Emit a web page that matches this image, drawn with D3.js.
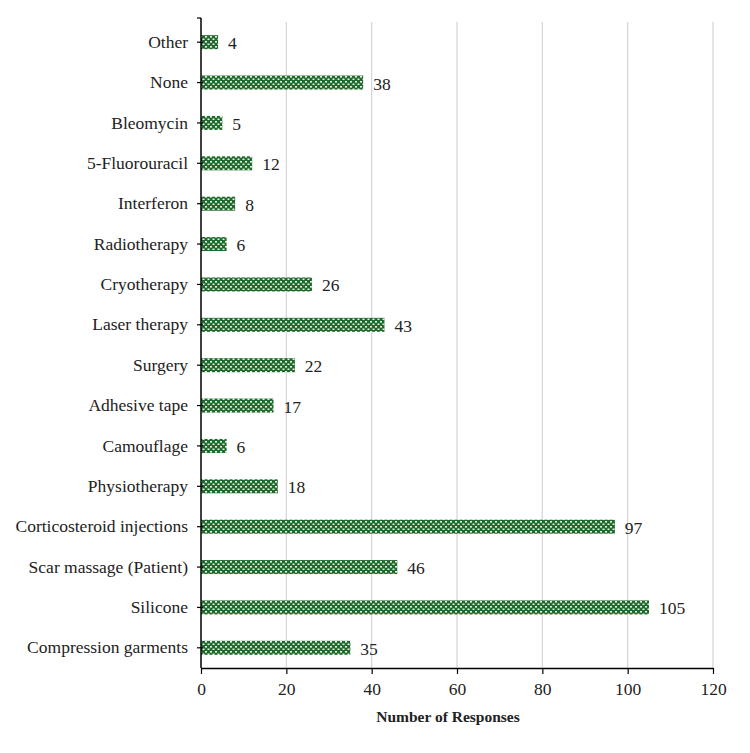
<!DOCTYPE html>
<html lang="en">
<head>
<meta charset="utf-8">
<title>Scar treatments</title>
<script src="https://d3js.org/d3.v7.min.js"></script>
<style>
  body { margin: 0; background: #fff; }
  text { font-family: 'Liberation Serif', 'Times New Roman', serif; fill: #222; }
  .axis-title { font-weight: bold; font-size: 15.5px; }
</style>
</head>
<body>
<div id="chart"></div>
<script>
// categories bottom -> top as in the picture
var categories = ["Compression garments", "Silicone", "Scar massage (Patient)", "Corticosteroid injections",
  "Physiotherapy", "Camouflage", "Adhesive tape", "Surgery", "Laser therapy", "Cryotherapy",
  "Radiotherapy", "Interferon", "5-Fluorouracil", "Bleomycin", "None", "Other"];
var responses = [35, 105, 46, 97, 18, 6, 17, 22, 43, 26, 6, 8, 12, 5, 38, 4];
var xTicks = [0, 20, 40, 60, 80, 100, 120];

var width = 750, height = 753;
var margin = {top: 22, right: 37, bottom: 85, left: 201};
var fs = "17.5px";

var svg = d3.select("#chart").append("svg")
  .attr("width", width)
  .attr("height", height);

// checkered fill for bars
var pat = svg.append("defs").append("pattern")
  .attr("id", "dots")
  .attr("patternUnits", "userSpaceOnUse")
  .attr("width", 5).attr("height", 5);
pat.append("rect").attr("width", 5).attr("height", 5).attr("fill", "#1f6a2c");
pat.append("rect").attr("x", 0).attr("y", 1).attr("width", 2).attr("height", 1.6).attr("fill", "#e8f2e8");
pat.append("rect").attr("x", 2.5).attr("y", 3.5).attr("width", 2).attr("height", 1.6).attr("fill", "#e8f2e8");

var data = categories.map(function(c, i) { return {name: c, value: responses[i]}; });

var x = d3.scaleLinear()
  .domain([0, 120])
  .range([margin.left, width - margin.right]);

var y = d3.scaleBand()
  .domain(categories.slice().reverse())
  .range([margin.top, height - margin.bottom]);

// gridlines
svg.append("g")
  .selectAll("line")
  .data(xTicks.slice(1))
  .join("line")
    .attr("x1", d => x(d)).attr("x2", d => x(d))
    .attr("y1", margin.top).attr("y2", height - margin.bottom)
    .attr("stroke", "#d4d4d4")
    .attr("stroke-width", 1.2);

// bars
var barH = 14;
svg.append("g")
  .selectAll("rect")
  .data(data)
  .join("rect")
    .attr("x", x(0))
    .attr("y", d => y(d.name) + y.bandwidth() / 2 - barH / 2)
    .attr("width", d => x(d.value) - x(0))
    .attr("height", barH)
    .attr("fill", "url(#dots)");

// value labels
svg.append("g")
  .selectAll("text")
  .data(data)
  .join("text")
    .attr("x", d => x(d.value) + 10)
    .attr("y", d => y(d.name) + y.bandwidth() / 2 + 7)
    .style("font-size", fs)
    .text(d => d.value);

// x axis
var xAxis = svg.append("g")
  .attr("transform", "translate(0," + (height - margin.bottom) + ")")
  .call(d3.axisBottom(x).tickValues(xTicks).tickSize(6).tickSizeOuter(0));
xAxis.select(".domain").attr("stroke", "#000").attr("stroke-width", 1.5);
xAxis.selectAll(".tick line").attr("stroke", "#000").attr("stroke-width", 1.2);
xAxis.selectAll(".tick text")
  .attr("dy", "1.05em")
  .attr("fill", "#222")
  .style("font-size", fs)
  .style("font-family", "'Liberation Serif', serif");

// y axis
var yAxis = svg.append("g")
  .attr("transform", "translate(" + margin.left + ",0)")
  .call(d3.axisLeft(y).tickSize(0).tickPadding(13));
yAxis.select(".domain").remove();
svg.append("line")
  .attr("x1", margin.left).attr("x2", margin.left)
  .attr("y1", margin.top - 4).attr("y2", height - margin.bottom)
  .attr("stroke", "#000").attr("stroke-width", 1.5);
svg.append("line")
  .attr("x1", margin.left - 4).attr("x2", margin.left)
  .attr("y1", margin.top - 4).attr("y2", margin.top - 4)
  .attr("stroke", "#000").attr("stroke-width", 1.2);
// small ticks crossing the axis at each category
svg.append("g")
  .selectAll("line")
  .data(categories)
  .join("line")
    .attr("x1", margin.left - 4).attr("x2", margin.left + 2)
    .attr("y1", d => y(d) + y.bandwidth() / 2)
    .attr("y2", d => y(d) + y.bandwidth() / 2)
    .attr("stroke", "#000").attr("stroke-width", 1.2);
yAxis.selectAll(".tick text")
  .attr("fill", "#222")
  .style("font-size", fs)
  .style("font-family", "'Liberation Serif', serif");

svg.append("text")
  .attr("class", "axis-title")
  .attr("x", 448)
  .attr("y", 722)
  .attr("text-anchor", "middle")
  .text("Number of Responses");
</script>
</body>
</html>
